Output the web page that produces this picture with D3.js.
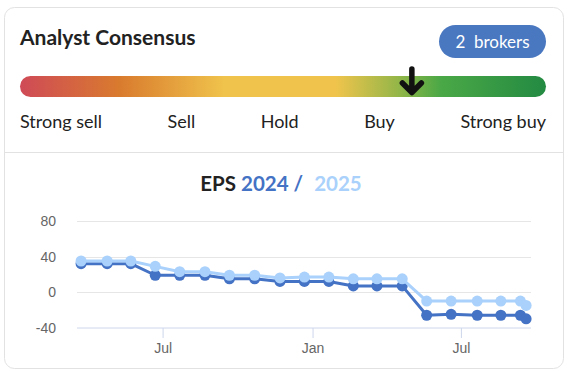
<!DOCTYPE html>
<html>
<head>
<meta charset="utf-8">
<script src="https://cdn.jsdelivr.net/npm/d3@7"></script>
<style>
  html, body { margin: 0; padding: 0; background: #fff; }
  svg { display: block; }
</style>
</head>
<body>
<svg id="chart" width="570" height="371"></svg>
<script>
// consensus scale
const ratingLabels = ["Strong sell", "Sell", "Hold", "Buy", "Strong buy"];
const consensusPos = 0.745;   // where the arrow sits on the bar (0..1)
const brokerCount = 2;

// EPS revisions
const dates = ["2023-03-23", "2023-04-24", "2023-05-23", "2023-06-22", "2023-07-22", "2023-08-22",
    "2023-09-21", "2023-10-22", "2023-11-22", "2023-12-22", "2024-01-21", "2024-02-20",
    "2024-03-20", "2024-04-20", "2024-05-20", "2024-06-19", "2024-07-21", "2024-08-19",
    "2024-09-12", "2024-09-19"];
const eps2024 = [32, 32, 32, 19, 19, 19, 15, 15, 12, 12, 12, 7, 7, 7, -26, -25, -26, -26, -26, -30];
const eps2025 = [35, 35, 35, 29, 23, 23, 19, 19, 16, 17, 17, 15, 15, 15, -10, -10, -10, -10, -10, -15];
const yTicks = [-40, 0, 40, 80];
const xTicks = ["2023-07-01", "2024-01-01", "2024-07-01"];

const c2024 = "#4472c4", c2025 = "#a9d1fb";

const svg = d3.select("#chart");

// card
svg.append("rect")
    .attr("x", 4.5).attr("y", 7.5).attr("width", 559).attr("height", 361)
    .attr("rx", 10).attr("fill", "#fff").attr("stroke", "#e2e2e2");
svg.append("line")
    .attr("x1", 5).attr("x2", 563).attr("y1", 152.5).attr("y2", 152.5)
    .attr("stroke", "#e2e2e2");

svg.append("text")
    .attr("x", 20).attr("y", 45)
    .attr("font-family", "Lato").attr("font-weight", 700).attr("font-size", 21)
    .attr("fill", "#222").text("Analyst Consensus");

// broker badge
svg.append("rect")
    .attr("x", 439).attr("y", 25).attr("width", 107).attr("height", 33)
    .attr("rx", 16.5).attr("fill", "#4a78c0");
svg.append("text")
    .attr("x", 492.5).attr("y", 48).attr("text-anchor", "middle")
    .attr("font-family", "Lato").attr("font-size", 17).attr("fill", "#fff")
    .attr("xml:space", "preserve")
    .text(brokerCount + "  brokers");

// gradient bar
const barX = 20, barW = 526, barY = 76, barH = 21;
const grad = svg.append("defs").append("linearGradient").attr("id", "cons");
[[0, "#cf4a57"], [0.19, "#d97b2e"], [0.39, "#f0c44c"], [0.6, "#f0c44c"],
 [0.72, "#93b648"], [0.8, "#4aa846"], [1, "#238a42"]].forEach(s =>
    grad.append("stop").attr("offset", s[0]).attr("stop-color", s[1]));
svg.append("rect")
    .attr("x", barX).attr("y", barY).attr("width", barW).attr("height", barH)
    .attr("rx", barH / 2).attr("fill", "url(#cons)");

const ax = barX + consensusPos * barW;
svg.append("path")
    .attr("d", `M${ax},69 V91 M${ax - 9.5},83 L${ax},92.5 L${ax + 9.5},83`)
    .attr("fill", "none").attr("stroke", "#111").attr("stroke-width", 5.5)
    .attr("stroke-linecap", "round").attr("stroke-linejoin", "round");

// labels spread like flex space-between
const labs = svg.append("g").attr("font-family", "Lato").attr("font-size", 18).attr("fill", "#222");
const nodes = ratingLabels.map(t => labs.append("text").attr("y", 128).text(t));
const widths = nodes.map(n => n.node().getComputedTextLength());
const gap = (barW - d3.sum(widths)) / (ratingLabels.length - 1);
let cx = barX;
nodes.forEach((n, i) => { n.attr("x", cx); cx += widths[i] + gap; });

// EPS chart title
const title = svg.append("text")
    .attr("x", 281).attr("y", 191).attr("text-anchor", "middle")
    .attr("font-family", "Lato").attr("font-weight", 700).attr("font-size", 20.5);
title.append("tspan").attr("fill", "#222").text("EPS ");
title.append("tspan").attr("fill", c2024).text("2024 /");
title.append("tspan").attr("fill", c2025).attr("dx", 11).text("2025");

const parse = d3.timeParse("%Y-%m-%d");
const x = d3.scaleTime()
    .domain([parse("2023-03-18"), parse("2024-09-25")])
    .range([77, 531]);
const y = d3.scaleLinear().domain([-40, 80]).range([327.7, 221]);

const g = svg.append("g");
g.selectAll("line.grid").data(yTicks.filter(v => v !== -40)).join("line")
    .attr("x1", 77).attr("x2", 531)
    .attr("y1", d => Math.round(y(d)) + 0.5).attr("y2", d => Math.round(y(d)) + 0.5)
    .attr("stroke", "#e6e6e6");
g.append("line")
    .attr("x1", 77).attr("x2", 531).attr("y1", 328).attr("y2", 328)
    .attr("stroke", "#ccd6eb");

g.selectAll("text.ylab").data(yTicks).join("text")
    .attr("x", 56).attr("y", d => y(d) + 5).attr("text-anchor", "end")
    .attr("font-family", "Liberation Sans, Arial").attr("font-size", 14).attr("fill", "#666")
    .text(d => d);

const xAxis = d3.axisBottom(x)
    .tickValues(xTicks.map(parse))
    .tickFormat(d3.timeFormat("%b"))
    .tickSize(10).tickPadding(5);
const xg = g.append("g").attr("transform", "translate(0,328)").call(xAxis);
xg.select(".domain").remove();
xg.selectAll(".tick line").attr("stroke", "#ccd6eb");
xg.selectAll(".tick text")
    .attr("font-family", "Liberation Sans, Arial").attr("font-size", 14).attr("fill", "#666");

const line = d3.line().x((d, i) => x(parse(dates[i]))).y(d => y(d));
[[eps2024, c2024], [eps2025, c2025]].forEach(([vals, col]) => {
    g.append("path").attr("d", line(vals))
        .attr("fill", "none").attr("stroke", col).attr("stroke-width", 3)
        .attr("stroke-linejoin", "round");
    g.selectAll(null).data(vals).join("circle")
        .attr("cx", (d, i) => x(parse(dates[i]))).attr("cy", d => y(d))
        .attr("r", 5.5).attr("fill", col);
});
</script>
</body>
</html>
